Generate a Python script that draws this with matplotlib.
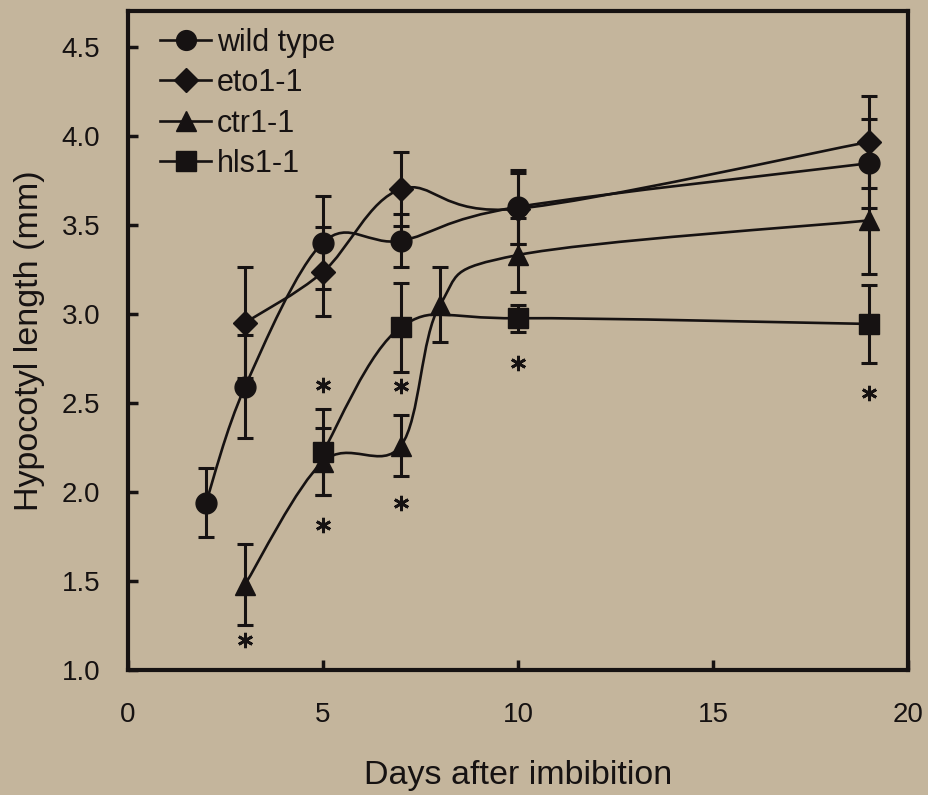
# Hypocotyl length vs days after imbibition (smoothed lines, error bars, asterisks)

import numpy as np
import matplotlib
matplotlib.use('Agg')
import matplotlib.pyplot as plt
from matplotlib.path import Path
from matplotlib.patches import PathPatch

# === Data ===
wt_x = [2, 3, 5, 7, 10, 19]
wt_y = [1.94, 2.59, 3.40, 3.41, 3.60, 3.845]
wt_err = [0.195, 0.29, 0.26, 0.15, 0.21, 0.25]

eto_x = [3, 5, 7, 10, 19]
eto_y = [2.95, 3.235, 3.70, 3.59, 3.965]
eto_err = [0.31, 0.25, 0.21, 0.20, 0.26]

ctr_x = [3, 5, 7, 8, 10, 19]
ctr_y = [1.48, 2.17, 2.26, 3.05, 3.33, 3.524]
ctr_err = [0.23, 0.19, 0.17, 0.21, 0.21, 0.30]

hls_x = [5, 7, 10, 19]
hls_y = [2.225, 2.925, 2.975, 2.943]
hls_err = [0.24, 0.25, 0.075, 0.22]

# significance asterisks
sig_x = [3, 5, 5, 7, 7, 10, 19]
sig_y = [1.17, 2.60, 1.815, 2.595, 1.94, 2.726, 2.556]

labels = ['wild type', 'eto1-1', 'ctr1-1', 'hls1-1']
markers = ['o', 'D', '^', 's']
msizes = [15, 12.5, 15, 15]

bg = '#c4b59c'
ink = '#161212'

plt.rcParams['font.family'] = ['Liberation Sans', 'DejaVu Sans']


def smooth_path(x, y):
    """Excel-like smoothed line: cubic Bezier through the points (Catmull-Rom)."""
    pts = np.column_stack([x, y]).astype(float)
    n = len(pts)
    verts = [pts[0]]
    codes = [Path.MOVETO]
    for i in range(n - 1):
        p0 = pts[i - 1] if i > 0 else pts[i]
        p1 = pts[i]
        p2 = pts[i + 1]
        p3 = pts[i + 2] if i + 2 < n else pts[i + 1]
        c1 = p1 + (p2 - p0) / 6.0
        c2 = p2 - (p3 - p1) / 6.0
        verts += [c1, c2, p2]
        codes += [Path.CURVE4] * 3
    return Path(verts, codes)


fig = plt.figure(figsize=(9.29, 7.95), dpi=100, facecolor=bg)
ax = fig.add_axes([0.1378, 0.1572, 0.8396, 0.829])
ax.set_facecolor(bg)

series = [(wt_x, wt_y, wt_err), (eto_x, eto_y, eto_err),
          (ctr_x, ctr_y, ctr_err), (hls_x, hls_y, hls_err)]

handles = []
for (x, y, e), lab, mk, ms in zip(series, labels, markers, msizes):
    ax.add_patch(PathPatch(smooth_path(x, y), fill=False, ec=ink, lw=1.9, zorder=2))
    ax.errorbar(x, y, yerr=e, fmt='none', ecolor=ink, elinewidth=2.2,
                capsize=5.5, capthick=2.2, zorder=3)
    ax.plot(x, y, ls='none', marker=mk, ms=ms, mfc=ink, mec=ink, zorder=4)
    h, = ax.plot([], [], color=ink, lw=1.9, marker=mk, ms=ms * 0.95, mfc=ink, mec=ink)
    handles.append(h)

ax.plot(sig_x, sig_y, ls='none', marker=(6, 2, 0), ms=11, mew=2.0, color=ink, zorder=4)

ax.set_xlim(0, 20)
ax.set_ylim(1.0, 4.7)
ax.set_xticks([0, 5, 10, 15, 20])
ax.set_yticks([1.0, 1.5, 2.0, 2.5, 3.0, 3.5, 4.0, 4.5])
ax.set_yticklabels(['1.0', '1.5', '2.0', '2.5', '3.0', '3.5', '4.0', '4.5'])

for sp in ax.spines.values():
    sp.set_linewidth(3)
    sp.set_color(ink)
ax.tick_params(direction='in', length=7, width=2.5, color=ink, labelcolor=ink)
ax.tick_params(axis='x', pad=23, labelsize=20)
ax.tick_params(axis='y', pad=20, labelsize=20)

ax.set_xlabel('Days after imbibition', fontsize=24.5, color=ink)
ax.set_ylabel('Hypocotyl length (mm)', fontsize=24.5, color=ink)
ax.xaxis.set_label_coords(0.5, -0.137)
ax.yaxis.set_label_coords(-0.106, 0.5)

ax.legend(handles, labels, loc='upper left', bbox_to_anchor=(0.02, 1.0),
          frameon=False, fontsize=22, handlelength=1.65, handletextpad=0.2,
          labelspacing=0.34, borderaxespad=0.15, labelcolor=ink)

plt.savefig('out.png', dpi=100, facecolor=bg)
